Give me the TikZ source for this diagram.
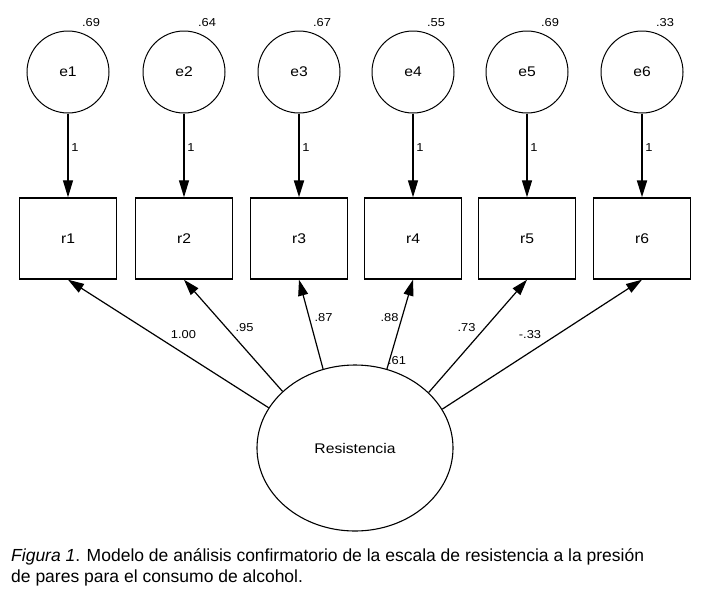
\documentclass[tikz,border=0pt]{standalone}
\usepackage{fontspec}
\setmainfont{Liberation Sans}
\newfontfamily\dgfont[FakeStretch=1.12]{Liberation Sans}
\usetikzlibrary{arrows.meta,shapes.geometric}
\begin{document}
\begin{tikzpicture}[x=1pt,y=-1pt,
  errnode/.style={circle,draw,line width=1pt,minimum size=82pt,inner sep=0pt,font=\dgfont\fontsize{14}{16}\selectfont},
  obsnode/.style={rectangle,draw,line width=1.4pt,minimum width=97pt,minimum height=81pt,inner sep=0pt,font=\dgfont\fontsize{14}{16}\selectfont},
  latnode/.style={ellipse,draw,line width=1.1pt,minimum width=196pt,minimum height=166pt,inner sep=0pt,font=\dgfont\fontsize{14}{16}\selectfont},
  errarrow/.style={-{Triangle[length=17pt,width=10pt]},line width=1.3pt},
  errarrowthick/.style={-{Triangle[length=17pt,width=10pt]},line width=2pt},
  loadarrow/.style={-{Triangle[length=16pt,width=10pt]},line width=1.2pt},
  lbl/.style={font=\dgfont\fontsize{11.5}{13}\selectfont,inner sep=0pt},
  captext/.style={font=\fontsize{17.5}{21}\selectfont,inner sep=0pt,anchor=base west}
]
\useasboundingbox[fill=white] (0,0) rectangle (703,595);

% error terms
\node[errnode] (e1) at (68,72) {e1};
\node[errnode] (e2) at (184,72) {e2};
\node[errnode] (e3) at (299,72) {e3};
\node[errnode] (e4) at (413,72) {e4};
\node[errnode] (e5) at (527,72) {e5};
\node[errnode] (e6) at (642,72) {e6};

% variance labels
\node[lbl] (v1) at (91,23) {.69};
\node[lbl] (v2) at (207,23) {.64};
\node[lbl] (v3) at (322,23) {.67};
\node[lbl] (v4) at (436,23) {.55};
\node[lbl] (v5) at (550,23) {.69};
\node[lbl] (v6) at (665,23) {.33};

% observed
\node[obsnode] (r1) at (68,238.5) {r1};
\node[obsnode] (r2) at (184,238.5) {r2};
\node[obsnode] (r3) at (299,238.5) {r3};
\node[obsnode] (r4) at (413,238.5) {r4};
\node[obsnode] (r5) at (527,238.5) {r5};
\node[obsnode] (r6) at (642,238.5) {r6};

% error arrows
\draw[errarrow] (e1) -- (r1);
\draw[errarrow] (e2) -- (r2);
\draw[errarrowthick] (e3) -- (r3);
\draw[errarrow] (e4) -- (r4);
\draw[errarrow] (e5) -- (r5);
\draw[errarrowthick] (e6) -- (r6);

\node[lbl] (w1) at (75,148) {1};
\node[lbl] (w2) at (191,148) {1};
\node[lbl] (w3) at (306,148) {1};
\node[lbl] (w4) at (420,148) {1};
\node[lbl] (w5) at (534,148) {1};
\node[lbl] (w6) at (649,148) {1};

% latent
\node[latnode] (R) at (355,448) {Resistencia};

\draw[loadarrow] (R.155.3) -- (r1.south);
\draw[loadarrow] (R.142.1) -- (r2.south);
\draw[loadarrow] (R.112) -- (r3.south);
\draw[loadarrow] (R.68) -- (r4.south);
\draw[loadarrow] (R.37.9) -- (r5.south);
\draw[loadarrow] (R.24.7) -- (r6.south);

\node[lbl] (l1) at (183.5,334.5) {1.00};
\node[lbl] (l2) at (244.5,327.5) {.95};
\node[lbl] (l3) at (323.5,318) {.87};
\node[lbl] (l4) at (389.5,318) {.88};
\node[lbl] (l5) at (466.5,327.5) {.73};
\node[lbl] (l6) at (530,334.5) {-.33};
\node[lbl] (l7) at (397,360.5) {.61};

% caption
\node[captext] (cap1) at (11,561) {\textit{Figura 1}. Modelo de análisis confirmatorio de la escala de resistencia a la presión};
\node[captext] (cap2) at (11,582) {de pares para el consumo de alcohol.};
\end{tikzpicture}
\end{document}
